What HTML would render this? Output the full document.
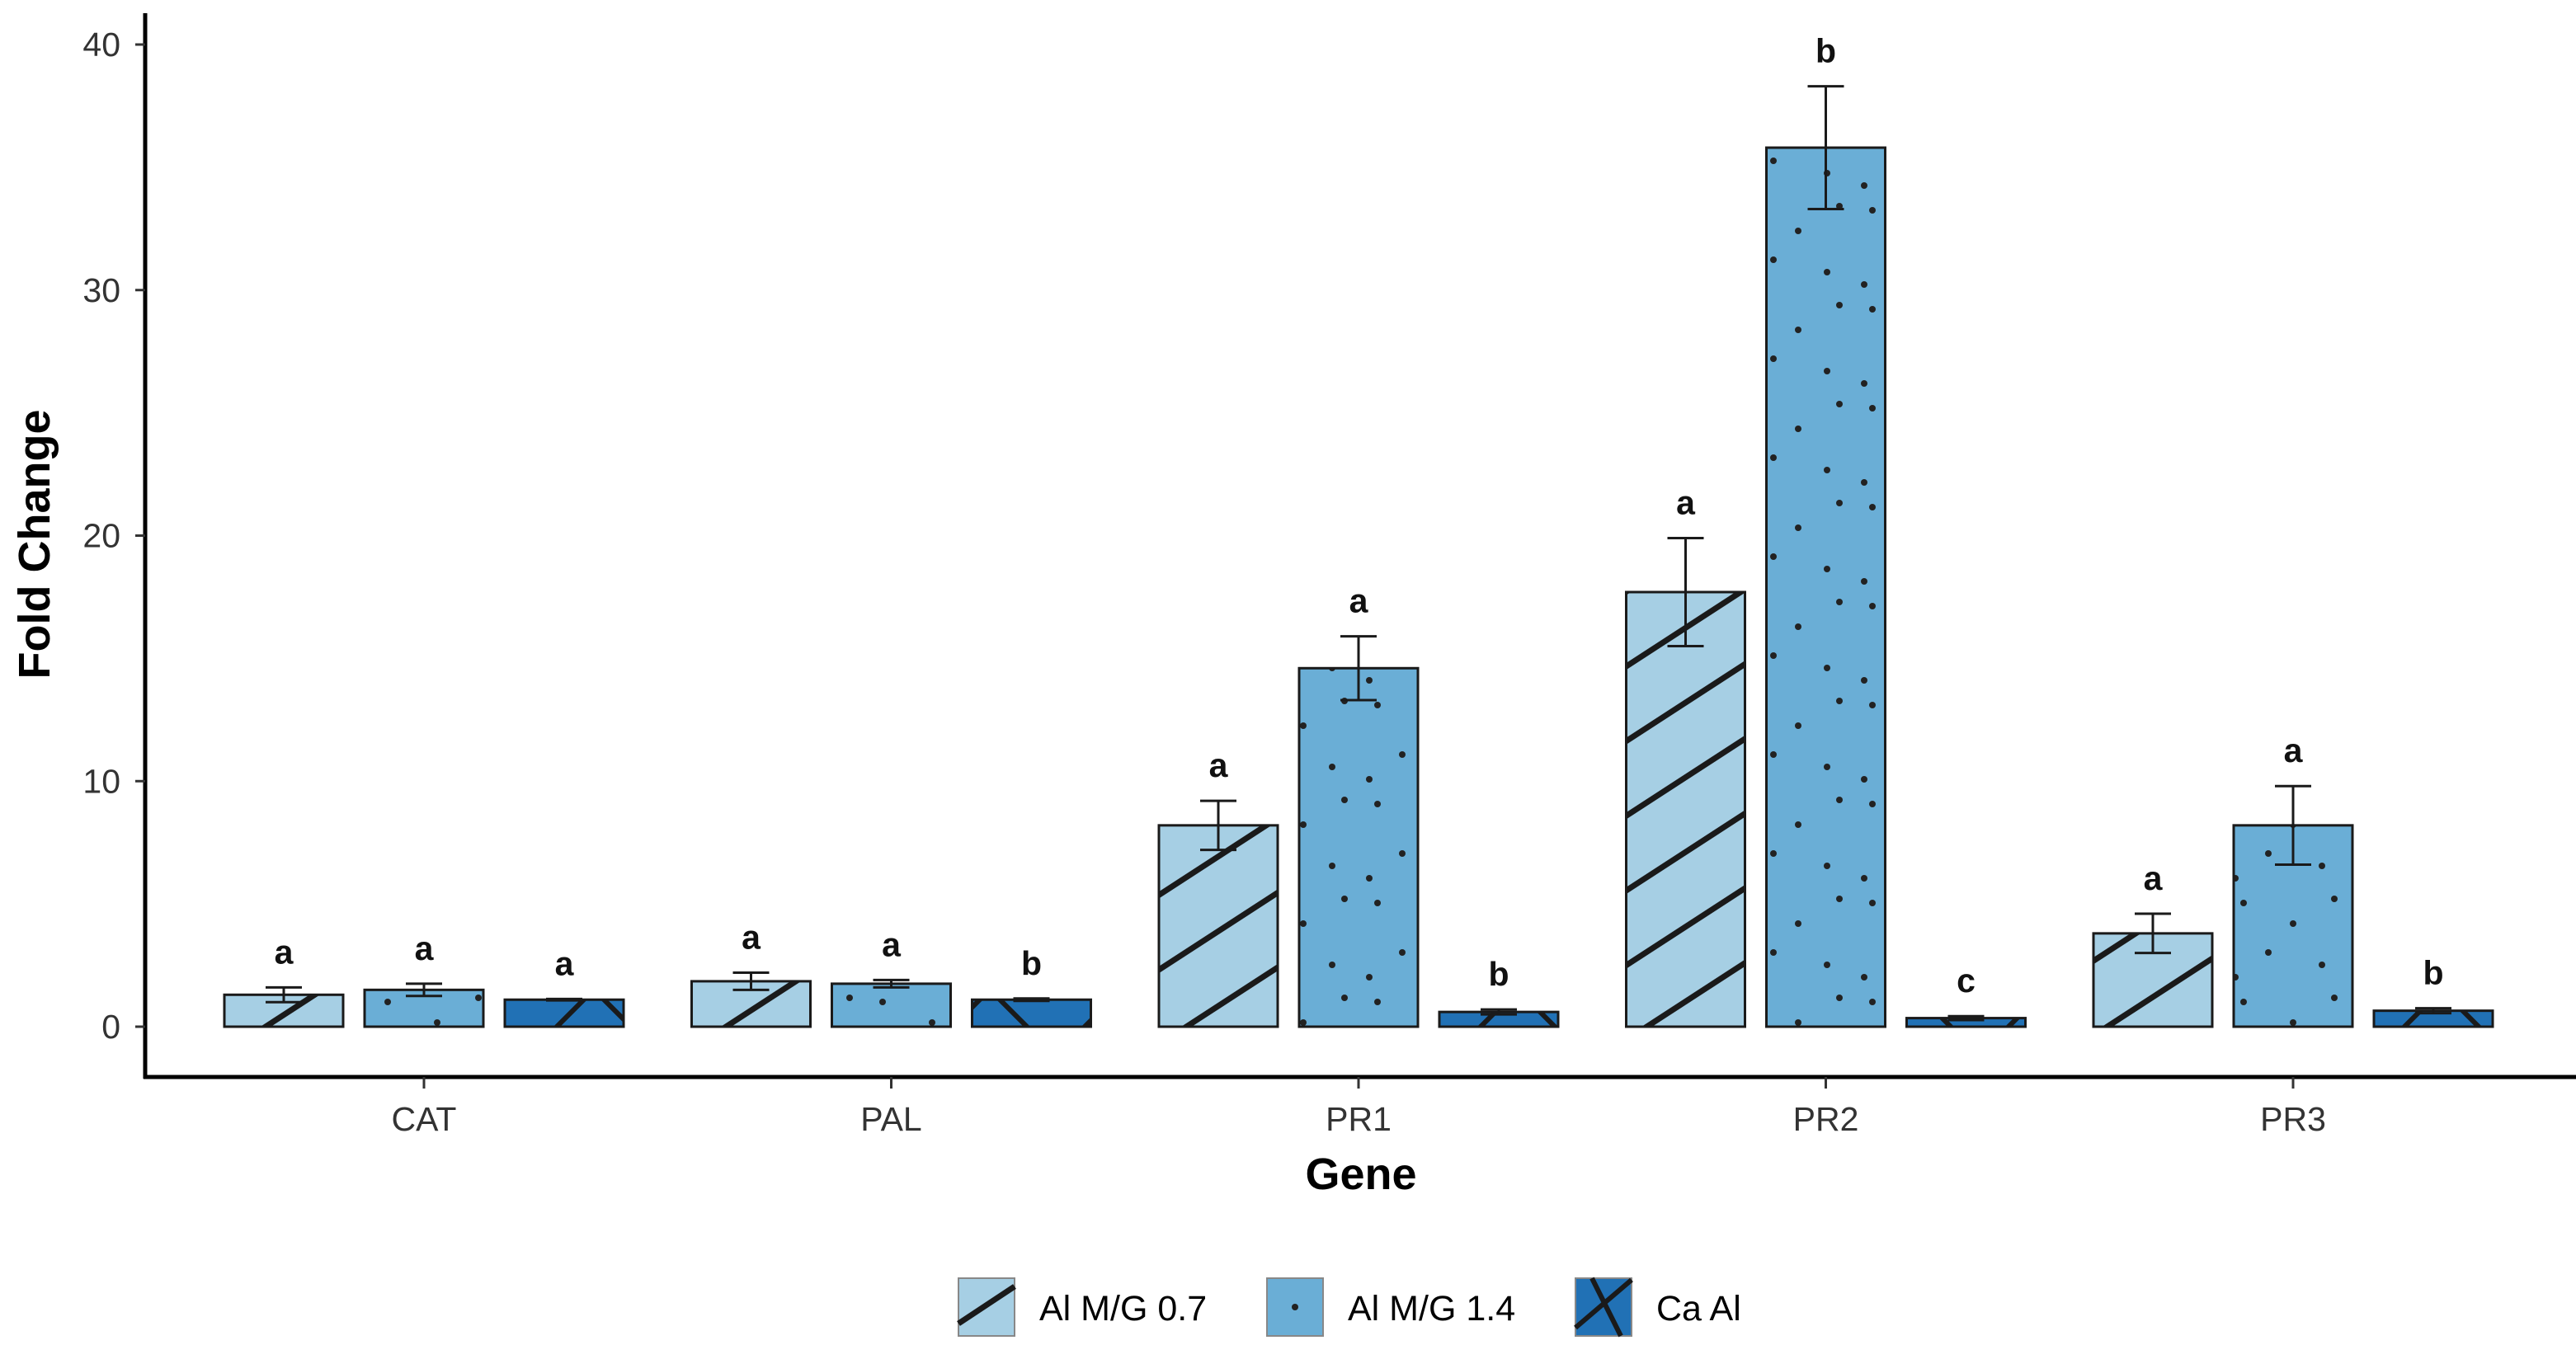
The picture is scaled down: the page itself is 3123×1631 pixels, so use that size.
<!DOCTYPE html>
<html><head><meta charset="utf-8"><style>body{margin:0;background:#fff}svg{display:block;font-family:"Liberation Sans",Arial,sans-serif}</style></head>
<body>
<svg id="chart" width="3123" height="1631" viewBox="0 0 3123 1631" xmlns="http://www.w3.org/2000/svg">
<defs>
<pattern id="pStripe" patternUnits="userSpaceOnUse" width="76" height="76" patternTransform="rotate(-33)">
<rect width="76" height="76" fill="#a6cfe4"/><rect y="0" width="76" height="7" fill="#1a1a1a"/></pattern>
<pattern id="pDot" patternUnits="userSpaceOnUse" width="150" height="120">
<rect width="150" height="120" fill="#6aaed6"/><circle cx="20" cy="15" r="4" fill="#222"/><circle cx="80" cy="40" r="4" fill="#222"/><circle cx="130" cy="10" r="4" fill="#222"/><circle cx="50" cy="75" r="4" fill="#222"/><circle cx="115" cy="90" r="4" fill="#222"/><circle cx="10" cy="105" r="4" fill="#222"/></pattern>
<pattern id="pCross" patternUnits="userSpaceOnUse" width="160" height="160">
<rect width="160" height="160" fill="#2171b5"/><path d="M0 0L160 160M160 0L0 160" stroke="#1a1a1a" stroke-width="6"/></pattern>
</defs>
<g id="plot"></g>
</svg>
<script>
const genes = ["CAT","PAL","PR1","PR2","PR3"];
const seriesNames = ["Al M/G 0.7","Al M/G 1.4","Ca Al"];
const valsA = [1.3,1.85,8.2,17.7,3.8];
const valsB = [1.5,1.75,14.6,35.8,8.2];
const valsC = [1.1,1.1,0.6,0.35,0.65];
const errA = [0.3,0.35,1.0,2.2,0.8];
const errB = [0.25,0.15,1.3,2.5,1.6];
const errC = [0.03,0.05,0.1,0.08,0.1];
const letA = ["a","a","a","a","a"];
const letB = ["a","a","a","b","a"];
const letC = ["a","b","b","c","b"];
const yTicks = [0,10,20,30,40];

const NS="http://www.w3.org/2000/svg";
const g=document.getElementById("plot");
function el(t,a,txt){const e=document.createElementNS(NS,t);for(const k in a)e.setAttribute(k,a[k]);if(txt!==undefined)e.textContent=txt;g.appendChild(e);return e;}
const y=v=>1245-v*29.775;
const x=i=>514+i*566.5;
const fills=["url(#pStripe)","url(#pDot)","url(#pCross)"];
const vals=[valsA,valsB,valsC],errs=[errA,errB,errC],lets=[letA,letB,letC];
const bw=144,off=170;
let e;
e=el("line",{x1:176,y1:16,x2:176,y2:1308,stroke:"#000","stroke-width":5});

e=el("line",{x1:174,y1:1306,x2:3123,y2:1306,stroke:"#000","stroke-width":5});

yTicks.forEach(t=>{
 e=el("line",{x1:164,y1:y(t),x2:176,y2:y(t),stroke:"#333","stroke-width":3});
 
 e=el("text",{x:146,y:y(t)+14,"text-anchor":"end","font-size":41,fill:"#333"},t);
 
});
genes.forEach((gn,i)=>{
 e=el("line",{x1:x(i),y1:1306,x2:x(i),y2:1320,stroke:"#333","stroke-width":3});
 
 e=el("text",{x:x(i),y:1371,"text-anchor":"middle","font-size":41,fill:"#333"},gn);
 
 for(let s=0;s<3;s++){
  const cx=x(i)+(s-1)*off,v=vals[s][i],er=errs[s][i];
  e=el("rect",{x:cx-bw/2,y:y(v),width:bw,height:y(0)-y(v),fill:fills[s],stroke:"#1a1a1a","stroke-width":3});
  
  const t=y(v+er),b=y(Math.max(0,v-er));
  e=el("path",{d:`M${cx-22} ${t}H${cx+22}M${cx} ${t}V${b}M${cx-22} ${b}H${cx+22}`,stroke:"#1a1a1a","stroke-width":3,fill:"none"});
  
  e=el("text",{x:cx,y:t-29,"text-anchor":"middle","font-size":41,"font-weight":"bold",fill:"#111"},lets[s][i]);
  
 }
});
e=el("text",{x:0,y:0,transform:"translate(60,660) rotate(-90)","text-anchor":"middle","font-size":54,"font-weight":"bold",fill:"#000"},"Fold Change");

e=el("text",{x:1650,y:1442,"text-anchor":"middle","font-size":54,"font-weight":"bold",fill:"#000"},"Gene");

const lx=[1162,1536,1910];
seriesNames.forEach((n,s)=>{
 e=el("rect",{x:lx[s],y:1550,width:68,height:70,fill:["#a6cfe4","#6aaed6","#2171b5"][s],stroke:"#888","stroke-width":2});
 
 if(s===0)el("line",{x1:lx[s],y1:1605,x2:lx[s]+68,y2:1560,stroke:"#1a1a1a","stroke-width":7});
 if(s===1)el("circle",{cx:lx[s]+34,cy:1585,r:4,fill:"#222"});
 if(s===2){el("line",{x1:lx[s],y1:1610,x2:lx[s]+68,y2:1552,stroke:"#1a1a1a","stroke-width":6});el("line",{x1:lx[s]+20,y1:1550,x2:lx[s]+55,y2:1620,stroke:"#1a1a1a","stroke-width":6});}
 e=el("text",{x:lx[s]+98,y:1601,"font-size":43,fill:"#000"},n);
 
});
</script>
</body></html>
